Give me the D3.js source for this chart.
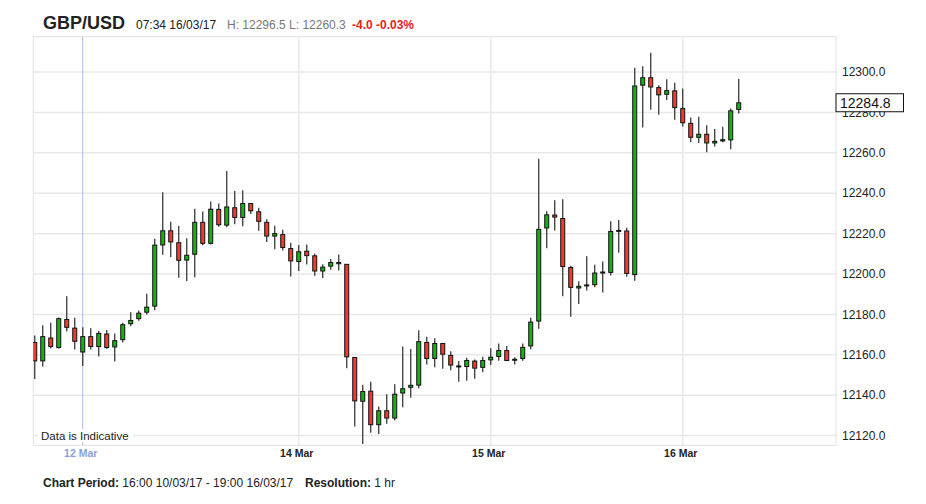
<!DOCTYPE html>
<html>
<head>
<meta charset="utf-8">
<script src="https://cdn.jsdelivr.net/npm/d3@7"></script>
<style>
  html, body { margin: 0; padding: 0; background: #fff; }
  svg { display: block; font-family: "Liberation Sans", Arial, Helvetica, sans-serif; }
</style>
</head>
<body>
<svg id="chart" width="926" height="504"></svg>
<script>
// ---------- data ----------
const title = "GBP/USD";
const stamp = "07:34 16/03/17";
const hiLo = "H: 12296.5 L: 12260.3";
const change = "-4.0 -0.03%";
const lastPrice = 12284.8;

// hourly candles: Fri 10/03 16:00-21:00, then Sun 12/03 21:00 to Thu 16/03 07:00
const times = [];
["2017-03-10T16:00:00Z|6", "2017-03-12T21:00:00Z|83"].forEach(s => {
  const [start, n] = s.split("|");
  const t0 = new Date(start);
  for (let k = 0; k < +n; k++) times.push(new Date(t0.getTime() + k * 3600e3));
});

const open = [12166.1,12157.0,12168.3,12163.6,12177.5,12173.2,12161.4,12169.0,12164.1,12170.3,
  12163.9,12167.5,12175.4,12177.9,12181.1,12184.1,12214.4,12221.4,12215.5,12206.9,
  12209.8,12225.6,12215.2,12232.0,12224.2,12232.8,12228.0,12234.9,12230.8,12225.6,
  12218.8,12219.5,12212.6,12206.2,12211.3,12209.0,12201.5,12203.9,12205.7,12204.8,
  12158.7,12137.0,12142.0,12125.4,12132.3,12128.7,12141.1,12143.9,12145.0,12166.1,
  12158.2,12165.6,12159.7,12154.5,12154.2,12156.9,12153.8,12157.5,12159.2,12162.1,
  12157.8,12158.2,12164.4,12176.7,12222.8,12229.2,12227.5,12203.2,12193.1,12194.1,
  12194.7,12200.5,12200.8,12221.1,12221.3,12199.7,12293.5,12297.2,12292.3,12289.0,
  12290.7,12281.9,12274.6,12267.7,12269.2,12264.9,12265.9,12266.4,12281.5];
const high = [12169.6,12174.6,12175.9,12178.5,12189.0,12178.3,12173.7,12173.2,12171.8,12172.3,
  12170.5,12175.9,12181.1,12181.9,12190.2,12217.5,12240.5,12225.9,12223.8,12217.7,
  12232.3,12231.0,12235.9,12234.9,12251.0,12241.1,12241.5,12235.2,12232.8,12227.1,
  12223.9,12221.9,12215.5,12214.4,12214.6,12210.0,12204.9,12207.4,12209.7,12205.0,
  12158.9,12145.2,12146.7,12134.4,12140.5,12145.4,12164.1,12162.9,12172.1,12169.0,
  12168.2,12165.9,12161.8,12156.9,12158.5,12157.7,12159.0,12163.2,12165.6,12164.4,
  12158.8,12165.6,12178.4,12257.1,12231.1,12236.5,12237.0,12204.1,12196.4,12208.8,
  12204.6,12206.2,12226.1,12226.7,12222.9,12302.1,12302.9,12309.5,12293.5,12296.4,
  12294.7,12291.8,12277.5,12277.9,12273.6,12271.8,12272.9,12281.9,12296.5];
const low = [12148.0,12154.2,12163.1,12163.1,12171.5,12162.6,12154.5,12162.6,12159.2,12163.0,
  12156.7,12166.1,12174.2,12176.9,12180.0,12182.1,12209.6,12208.4,12198.1,12196.6,
  12198.4,12214.3,12214.6,12223.4,12223.1,12224.6,12223.6,12229.7,12221.4,12215.9,
  12212.3,12211.6,12198.8,12201.5,12204.7,12199.2,12198.0,12202.1,12201.7,12153.4,
  12124.5,12115.9,12121.4,12120.8,12125.9,12127.5,12134.1,12138.7,12143.4,12155.2,
  12153.8,12153.1,12152.4,12146.7,12147.2,12148.1,12151.4,12154.9,12157.0,12156.9,
  12155.2,12157.0,12162.8,12172.9,12212.8,12221.6,12189.0,12178.8,12185.2,12191.8,
  12193.4,12190.8,12199.3,12210.5,12198.7,12196.7,12272.6,12281.3,12278.8,12286.1,
  12276.4,12273.1,12265.2,12264.9,12260.3,12263.1,12265.2,12261.8,12279.5];
const close = [12157.0,12169.0,12164.1,12177.9,12173.6,12166.7,12169.0,12164.1,12170.6,12163.6,
  12167.0,12174.9,12177.0,12180.6,12183.6,12214.3,12221.4,12215.9,12206.8,12209.3,
  12225.6,12215.2,12232.1,12224.4,12233.2,12228.0,12234.9,12231.3,12226.1,12218.8,
  12220.0,12213.1,12206.5,12211.0,12209.1,12201.5,12203.4,12205.7,12205.1,12159.0,
  12137.2,12141.8,12125.4,12132.3,12128.7,12140.5,12143.2,12144.9,12166.5,12158.2,
  12165.6,12160.3,12154.9,12154.0,12157.2,12153.4,12157.2,12158.8,12162.1,12157.2,
  12157.3,12163.7,12176.2,12222.1,12229.3,12228.2,12203.7,12193.4,12193.9,12194.6,
  12200.5,12201.0,12221.1,12221.6,12200.3,12293.1,12297.2,12292.6,12288.7,12290.8,
  12282.4,12274.9,12267.7,12269.2,12264.9,12265.7,12266.5,12280.8,12284.8];

const yTicks = [12120,12140,12160,12180,12200,12220,12240,12260,12280,12300];
const xTickLabels = ["12 Mar", "14 Mar", "15 Mar", "16 Mar"];
const xTickTimes = ["2017-03-12T21:00:00Z", "2017-03-14T00:00:00Z", "2017-03-15T00:00:00Z", "2017-03-16T00:00:00Z"];
const periodEnd = "2017-03-16T19:00:00Z";

// ---------- layout ----------
const L = 33.3, R = 836, T = 36.7, B = 445.3;
const svg = d3.select("#chart");

// slot index: weekend gap collapsed (market-hour slots)
const weekStart = times[6].getTime();
function slotOf(t) {
  const ms = (t instanceof Date ? t : new Date(t)).getTime();
  if (ms < weekStart) return times.findIndex(d => d.getTime() === ms);
  return 6 + (ms - weekStart) / 3600e3;
}
const endSlot = slotOf(periodEnd);
const x = d3.scaleLinear().domain([-0.18, endSlot + 0.16]).range([L, R]);
const y = d3.scaleLinear().domain([12115.2, 12317.5]).range([B, T]);

const candles = times.map((t, i) => ({ t, s: slotOf(t), o: open[i], h: high[i], l: low[i], c: close[i] }));

// ---------- header ----------
const head = svg.append("text").attr("x", 43).attr("y", 29);
head.append("tspan").text(title).attr("font-size", 18).attr("font-weight", "bold").attr("fill", "#222");
const head2 = svg.append("text").attr("x", 136).attr("y", 29).attr("font-size", 12);
head2.append("tspan").text(stamp).attr("fill", "#222");
head2.append("tspan").attr("x", 227).text(hiLo).attr("fill", "#777");
head2.append("tspan").attr("x", 352).text(change).attr("fill", "#e3241b").attr("font-weight", "bold");

// ---------- grid ----------
svg.append("g").selectAll("line").data(yTicks).join("line")
  .attr("x1", L).attr("x2", R)
  .attr("y1", d => y(d)).attr("y2", d => y(d))
  .attr("stroke", "#e8e8e8").attr("stroke-width", 1.5);

const xTicks = xTickTimes.map((t, i) => ({ s: slotOf(t), label: xTickLabels[i], first: i === 0 }));
svg.append("g").selectAll("line").data(xTicks).join("line")
  .attr("x1", d => x(d.s)).attr("x2", d => x(d.s))
  .attr("y1", T).attr("y2", B)
  .attr("stroke", d => d.first ? "#a7b9e6" : "#e8e8e8")
  .attr("stroke-width", d => d.first ? 1 : 1.5);

svg.append("rect").attr("x", L).attr("y", T).attr("width", R - L).attr("height", B - T)
  .attr("fill", "none").attr("stroke", "#e2e2e2").attr("stroke-width", 1);

// Data is Indicative
svg.append("rect").attr("x", 38).attr("y", 429).attr("width", 95).attr("height", 13).attr("fill", "#fff");
svg.append("text").attr("x", 41).attr("y", 439.5).attr("font-size", 11.5).attr("fill", "#222").text("Data is Indicative");

// ---------- candles ----------
svg.append("clipPath").attr("id", "plotclip").append("rect")
  .attr("x", L).attr("y", T).attr("width", R - L).attr("height", B - T);
const cg = svg.append("g").attr("clip-path", "url(#plotclip)");
const bw = 4;
const g = cg.selectAll("g").data(candles).join("g");
g.append("line")
  .attr("x1", d => x(d.s)).attr("x2", d => x(d.s))
  .attr("y1", d => y(d.h)).attr("y2", d => y(d.l))
  .attr("stroke", "#3a3a3a").attr("stroke-width", 1.3);
g.append("rect")
  .attr("x", d => x(d.s) - bw / 2)
  .attr("y", d => y(Math.max(d.o, d.c)))
  .attr("width", bw)
  .attr("height", d => Math.max(0.6, Math.abs(y(d.o) - y(d.c))))
  .attr("fill", d => d.c >= d.o ? "#17b117" : "#ef3a36")
  .attr("stroke", "#111").attr("stroke-width", 1);

// ---------- y axis labels ----------
svg.append("g").selectAll("text").data(yTicks).join("text")
  .attr("x", 842).attr("y", d => y(d)).attr("dy", "0.35em")
  .attr("font-size", 12).attr("fill", "#222")
  .text(d => d3.format(".1f")(d));

// last price box
const py = y(lastPrice);
svg.append("rect").attr("x", 836).attr("y", py - 9).attr("width", 67.5).attr("height", 18)
  .attr("fill", "#fff").attr("stroke", "#111").attr("stroke-width", 1);
svg.append("text").attr("x", 840).attr("y", py).attr("dy", "0.36em")
  .attr("font-size", 14).attr("fill", "#111").text(d3.format(".1f")(lastPrice));

// ---------- x axis labels ----------
svg.append("g").selectAll("text").data(xTicks).join("text")
  .attr("x", d => x(d.s) - 2).attr("y", 456.5)
  .attr("text-anchor", "middle")
  .attr("font-size", 10.5).attr("font-weight", "bold")
  .attr("fill", d => d.first ? "#8a9fd8" : "#222")
  .text(d => d.label);

// ---------- footer ----------
const ft = svg.append("text").attr("x", 43).attr("y", 487).attr("font-size", 12).attr("fill", "#222");
ft.append("tspan").attr("font-weight", "bold").text("Chart Period:");
ft.append("tspan").text(" 16:00 10/03/17 - 19:00 16/03/17");
ft.append("tspan").attr("x", 305).attr("font-weight", "bold").text("Resolution:");
ft.append("tspan").text(" 1 hr");
</script>
</body>
</html>
